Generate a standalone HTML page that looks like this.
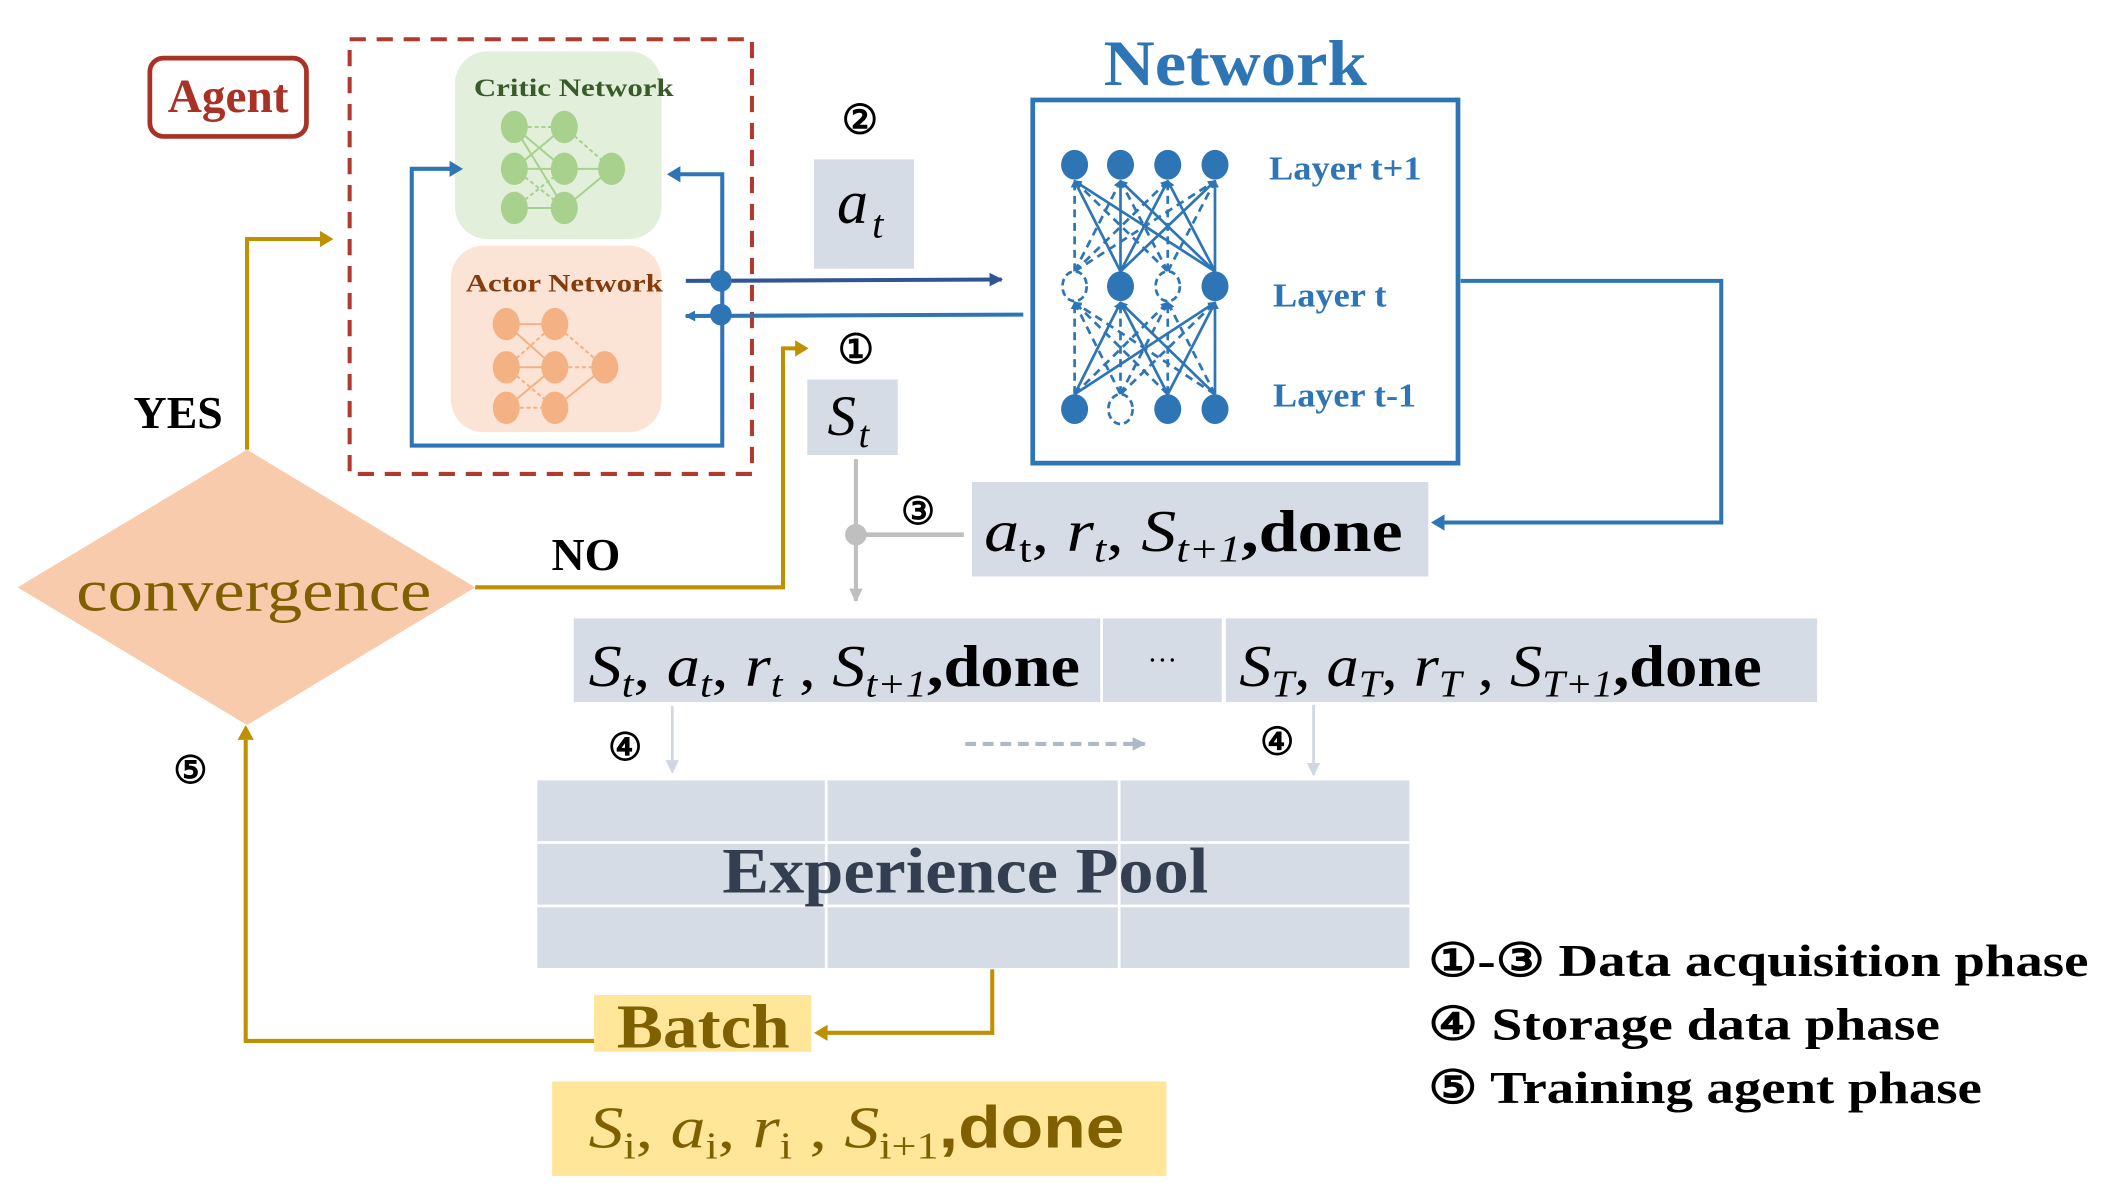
<!DOCTYPE html>
<html><head><meta charset="utf-8"><style>
html,body{margin:0;padding:0;background:#fff;}
svg{display:block;}
text{font-family:"Liberation Serif",serif;}
.b{font-weight:bold;}
.m{font-style:italic;}
</style></head><body>
<svg width="2106" height="1203" viewBox="0 0 1560 891" xmlns="http://www.w3.org/2000/svg">
<defs>
<marker id="ab" markerWidth="8" markerHeight="8" refX="7" refY="4" orient="auto" markerUnits="userSpaceOnUse"><path d="M0,0 L8,4 L0,8 Z" fill="#2e75b6"/></marker>
<marker id="ad" markerWidth="10" markerHeight="10" refX="9" refY="5" orient="auto" markerUnits="userSpaceOnUse"><path d="M0,0 L10,5 L0,10 Z" fill="#2f5597"/></marker>
<marker id="agr" markerWidth="10" markerHeight="10" refX="9" refY="5" orient="auto" markerUnits="userSpaceOnUse"><path d="M0,0 L10,5 L0,10 Z" fill="#bfbfbf"/></marker>
<marker id="alg" markerWidth="10" markerHeight="10" refX="9" refY="5" orient="auto" markerUnits="userSpaceOnUse"><path d="M0,0 L10,5 L0,10 Z" fill="#d0d6e2"/></marker>
<marker id="ad2" markerWidth="10" markerHeight="10" refX="9" refY="5" orient="auto" markerUnits="userSpaceOnUse"><path d="M0,0 L10,5 L0,10 Z" fill="#adb9ca"/></marker>
<marker id="an" markerWidth="6" markerHeight="6" refX="5" refY="3" orient="auto" markerUnits="userSpaceOnUse"><path d="M0,0 L6,3 L0,6 Z" fill="#2e75b6"/></marker>
</defs>

<rect x="111" y="43" width="116" height="58" rx="10" fill="#fff" stroke="#a93226" stroke-width="3.5"/>
<text x="169" y="83" text-anchor="middle" class="b" font-size="35" fill="#a93226">Agent</text>

<rect x="259" y="29" width="298" height="322" fill="none" stroke="#b03a2e" stroke-width="3" stroke-dasharray="12,8"/>

<rect x="337" y="38" width="153" height="139" rx="24" fill="#e2efda"/>
<text x="425" y="71" text-anchor="middle" class="b" font-size="19" fill="#3a5a2a" textLength="148" lengthAdjust="spacingAndGlyphs">Critic Network</text>
<g stroke="#a9d18e" stroke-width="1.5">
<line x1="381" y1="94" x2="418" y2="94" stroke-dasharray="3,2"/><line x1="381" y1="94" x2="418" y2="125"/><line x1="381" y1="125" x2="418" y2="94"/>
<line x1="381" y1="125" x2="418" y2="125"/><line x1="381" y1="125" x2="418" y2="154" stroke-dasharray="3,2"/><line x1="381" y1="154" x2="418" y2="125" stroke-dasharray="3,2"/>
<line x1="381" y1="154" x2="418" y2="154"/><line x1="381" y1="94" x2="418" y2="154"/>
<line x1="418" y1="94" x2="453" y2="125" stroke-dasharray="3,2"/><line x1="418" y1="125" x2="453" y2="125"/><line x1="418" y1="154" x2="453" y2="125"/>
</g>
<g fill="#a9d18e">
<ellipse cx="381" cy="94" rx="10" ry="12"/><ellipse cx="381" cy="125" rx="10" ry="12"/><ellipse cx="381" cy="154" rx="10" ry="12"/>
<ellipse cx="418" cy="94" rx="10" ry="12"/><ellipse cx="418" cy="125" rx="10" ry="12"/><ellipse cx="418" cy="154" rx="10" ry="12"/>
<ellipse cx="453" cy="125" rx="10" ry="12"/>
</g>

<rect x="334" y="182" width="156" height="138" rx="24" fill="#fbe4d5"/>
<text x="418" y="216" text-anchor="middle" class="b" font-size="19" fill="#843c0c" textLength="146" lengthAdjust="spacingAndGlyphs">Actor Network</text>
<g stroke="#f4b183" stroke-width="1.5">
<line x1="375" y1="240" x2="411" y2="240"/><line x1="375" y1="240" x2="411" y2="272"/><line x1="375" y1="272" x2="411" y2="240" stroke-dasharray="3,2"/>
<line x1="375" y1="272" x2="411" y2="272"/><line x1="375" y1="272" x2="411" y2="302" stroke-dasharray="3,2"/><line x1="375" y1="302" x2="411" y2="272"/>
<line x1="375" y1="302" x2="411" y2="302" stroke-dasharray="3,2"/>
<line x1="411" y1="240" x2="448" y2="272" stroke-dasharray="3,2"/><line x1="411" y1="272" x2="448" y2="272" stroke-dasharray="3,2"/><line x1="411" y1="302" x2="448" y2="272"/>
</g>
<g fill="#f4b183">
<ellipse cx="375" cy="240" rx="10" ry="12"/><ellipse cx="375" cy="272" rx="10" ry="12"/><ellipse cx="375" cy="302" rx="10" ry="12"/>
<ellipse cx="411" cy="240" rx="10" ry="12"/><ellipse cx="411" cy="272" rx="10" ry="12"/><ellipse cx="411" cy="302" rx="10" ry="12"/>
<ellipse cx="448" cy="272" rx="10" ry="12"/>
</g>

<polyline points="340,125 305,125 305,330 535,330 535,129 497,129" fill="none" stroke="#2e75b6" stroke-width="3"/>
<path d="M333,119 L343,125 L333,131 Z" fill="#2e75b6"/>
<path d="M504,123 L494,129 L504,135 Z" fill="#2e75b6"/>
<line x1="508" y1="208" x2="742" y2="207" stroke="#2f5597" stroke-width="3" marker-end="url(#ad)"/>
<line x1="758" y1="233" x2="508" y2="234" stroke="#2e75b6" stroke-width="3" marker-end="url(#ab)"/>
<circle cx="534" cy="208" r="8" fill="#2e75b6"/><circle cx="534" cy="233" r="8" fill="#2e75b6"/>

<text x="637" y="99" text-anchor="middle" class="b" font-size="30" fill="#000">②</text>
<rect x="603" y="118" width="74" height="81" fill="#d6dce5"/>
<text x="620" y="165" class="m" font-size="46">a</text><text x="646" y="176" class="m" font-size="30">t</text>
<text x="634" y="269" text-anchor="middle" class="b" font-size="30">①</text>
<rect x="598" y="281" width="67" height="56" fill="#d6dce5"/>
<text x="613" y="322" class="m" font-size="42">S</text><text x="636" y="331" class="m" font-size="28">t</text>

<line x1="634" y1="340" x2="634" y2="445" stroke="#bfbfbf" stroke-width="3" marker-end="url(#agr)"/>
<line x1="634" y1="396" x2="714" y2="396" stroke="#bfbfbf" stroke-width="3.5"/>
<circle cx="634" cy="396" r="8" fill="#bfbfbf"/>
<text x="680" y="388" text-anchor="middle" class="b" font-size="28">③</text>

<rect x="720" y="357" width="338" height="70" fill="#d6dce5"/>
<text x="729" y="408" font-size="44" textLength="310" lengthAdjust="spacingAndGlyphs"><tspan class="m">a</tspan><tspan font-size="28" dy="8">t</tspan><tspan dy="-8">, </tspan><tspan class="m">r</tspan><tspan class="m" font-size="28" dy="8">t</tspan><tspan dy="-8">, </tspan><tspan class="m">S</tspan><tspan class="m" font-size="28" dy="8">t+1</tspan><tspan dy="-8" class="b">,done</tspan></text>

<text x="915" y="63" text-anchor="middle" class="b" font-size="48" fill="#2e75b6" textLength="195" lengthAdjust="spacingAndGlyphs">Network</text>
<rect x="765" y="74" width="315" height="269" fill="#fff" stroke="#2e75b6" stroke-width="3.5"/>
<g stroke="#2e75b6" stroke-width="2" marker-end="url(#an)">
<line x1="796" y1="201" x2="796" y2="134" stroke-dasharray="6,4"/><line x1="796" y1="201" x2="830" y2="134" stroke-dasharray="6,4"/><line x1="796" y1="201" x2="865" y2="134" stroke-dasharray="6,4"/><line x1="796" y1="201" x2="900" y2="134" stroke-dasharray="6,4"/>
<line x1="830" y1="201" x2="796" y2="134"/><line x1="830" y1="201" x2="830" y2="134"/><line x1="830" y1="201" x2="865" y2="134"/><line x1="830" y1="201" x2="900" y2="134"/>
<line x1="865" y1="201" x2="796" y2="134" stroke-dasharray="6,4"/><line x1="865" y1="201" x2="830" y2="134" stroke-dasharray="6,4"/><line x1="865" y1="201" x2="865" y2="134" stroke-dasharray="6,4"/><line x1="865" y1="201" x2="900" y2="134" stroke-dasharray="6,4"/>
<line x1="900" y1="201" x2="796" y2="134"/><line x1="900" y1="201" x2="830" y2="134"/><line x1="900" y1="201" x2="865" y2="134"/><line x1="900" y1="201" x2="900" y2="134"/>
<line x1="796" y1="292" x2="796" y2="224" stroke-dasharray="6,4"/><line x1="796" y1="292" x2="830" y2="224"/><line x1="796" y1="292" x2="865" y2="224" stroke-dasharray="6,4"/><line x1="796" y1="292" x2="900" y2="224"/>
<line x1="830" y1="292" x2="796" y2="224" stroke-dasharray="6,4"/><line x1="830" y1="292" x2="830" y2="224" stroke-dasharray="6,4"/><line x1="830" y1="292" x2="865" y2="224" stroke-dasharray="6,4"/><line x1="830" y1="292" x2="900" y2="224" stroke-dasharray="6,4"/>
<line x1="865" y1="292" x2="796" y2="224" stroke-dasharray="6,4"/><line x1="865" y1="292" x2="830" y2="224"/><line x1="865" y1="292" x2="865" y2="224" stroke-dasharray="6,4"/><line x1="865" y1="292" x2="900" y2="224"/>
<line x1="900" y1="292" x2="796" y2="224" stroke-dasharray="6,4"/><line x1="900" y1="292" x2="830" y2="224"/><line x1="900" y1="292" x2="865" y2="224" stroke-dasharray="6,4"/><line x1="900" y1="292" x2="900" y2="224"/>
</g>
<g fill="#2e75b6">
<ellipse cx="796" cy="122" rx="10" ry="11"/><ellipse cx="830" cy="122" rx="10" ry="11"/><ellipse cx="865" cy="122" rx="10" ry="11"/><ellipse cx="900" cy="122" rx="10" ry="11"/>
<ellipse cx="830" cy="212" rx="10" ry="11"/><ellipse cx="900" cy="212" rx="10" ry="11"/>
<ellipse cx="796" cy="303" rx="10" ry="11"/><ellipse cx="865" cy="303" rx="10" ry="11"/><ellipse cx="900" cy="303" rx="10" ry="11"/>
</g>
<g fill="#fff" stroke="#2e75b6" stroke-width="2" stroke-dasharray="5,3">
<ellipse cx="796" cy="212" rx="9" ry="11"/><ellipse cx="865" cy="212" rx="9" ry="11"/><ellipse cx="830" cy="303" rx="9" ry="11"/>
</g>
<g class="b" font-size="25" fill="#2e75b6">
<text x="940" y="133" textLength="113" lengthAdjust="spacingAndGlyphs">Layer t+1</text>
<text x="943" y="227" textLength="84" lengthAdjust="spacingAndGlyphs">Layer t</text>
<text x="943" y="301" textLength="106" lengthAdjust="spacingAndGlyphs">Layer t-1</text>
</g>
<polyline points="1082,208 1275,208 1275,387 1070,387" fill="none" stroke="#2e75b6" stroke-width="3"/>
<path d="M1070,381 L1060,387 L1070,393 Z" fill="#2e75b6"/>

<rect x="425" y="458" width="390" height="62" fill="#d6dce5"/>
<rect x="817" y="458" width="88" height="62" fill="#d6dce5"/>
<rect x="908" y="458" width="438" height="62" fill="#d6dce5"/>
<text x="436" y="508" font-size="44" textLength="364" lengthAdjust="spacingAndGlyphs"><tspan class="m">S</tspan><tspan class="m" font-size="28" dy="8">t</tspan><tspan dy="-8">, </tspan><tspan class="m">a</tspan><tspan class="m" font-size="28" dy="8">t</tspan><tspan dy="-8">, </tspan><tspan class="m">r</tspan><tspan class="m" font-size="28" dy="8">t</tspan><tspan dy="-8"> , </tspan><tspan class="m">S</tspan><tspan class="m" font-size="28" dy="8">t+1</tspan><tspan dy="-8" class="b">,done</tspan></text>
<text x="861" y="490" text-anchor="middle" font-size="22">…</text>
<text x="918" y="508" font-size="44" textLength="387" lengthAdjust="spacingAndGlyphs"><tspan class="m">S</tspan><tspan class="m" font-size="28" dy="8">T</tspan><tspan dy="-8">, </tspan><tspan class="m">a</tspan><tspan class="m" font-size="28" dy="8">T</tspan><tspan dy="-8">, </tspan><tspan class="m">r</tspan><tspan class="m" font-size="28" dy="8">T</tspan><tspan dy="-8"> , </tspan><tspan class="m">S</tspan><tspan class="m" font-size="28" dy="8">T+1</tspan><tspan dy="-8" class="b">,done</tspan></text>

<line x1="498" y1="523" x2="498" y2="572" stroke="#d0d6e2" stroke-width="2" marker-end="url(#alg)"/>
<line x1="973" y1="522" x2="973" y2="574" stroke="#d0d6e2" stroke-width="2" marker-end="url(#alg)"/>
<line x1="715" y1="551" x2="848" y2="551" stroke="#adb9ca" stroke-width="3" stroke-dasharray="8,5" marker-end="url(#ad2)"/>
<text x="463" y="563" text-anchor="middle" class="b" font-size="28">④</text>
<text x="946" y="559" text-anchor="middle" class="b" font-size="28">④</text>

<rect x="398" y="578" width="646" height="139" fill="#d6dce5"/>
<g stroke="#fff" stroke-width="2"><line x1="612" y1="578" x2="612" y2="717"/><line x1="829" y1="578" x2="829" y2="717"/><line x1="398" y1="624" x2="1044" y2="624"/><line x1="398" y1="671" x2="1044" y2="671"/></g>
<text x="715" y="661" text-anchor="middle" class="b" font-size="48" fill="#333f50" textLength="360" lengthAdjust="spacingAndGlyphs">Experience Pool</text>

<polyline points="735,718 735,765 612,765" fill="none" stroke="#bf9000" stroke-width="3"/>
<path d="M613,759 L603,765 L613,771 Z" fill="#bf9000"/>
<rect x="440" y="737" width="161" height="42" fill="#ffe699"/>
<text x="521" y="776" text-anchor="middle" class="b" font-size="46" fill="#7f6000" textLength="128" lengthAdjust="spacingAndGlyphs">Batch</text>
<rect x="409" y="801" width="455" height="70" fill="#ffe699"/>
<text x="436" y="850" font-size="44" fill="#7f6000" textLength="397" lengthAdjust="spacingAndGlyphs"><tspan class="m">S</tspan><tspan font-size="28" dy="8">i</tspan><tspan dy="-8">, </tspan><tspan class="m">a</tspan><tspan font-size="28" dy="8">i</tspan><tspan dy="-8">, </tspan><tspan class="m">r</tspan><tspan font-size="28" dy="8">i</tspan><tspan dy="-8"> , </tspan><tspan class="m">S</tspan><tspan font-size="28" dy="8">i+1</tspan><tspan dy="-8" class="b" font-family="Liberation Sans">,done</tspan></text>

<polyline points="440,771 182,771 182,548" fill="none" stroke="#bf9000" stroke-width="3"/>
<path d="M176,548 L182,537 L188,548 Z" fill="#bf9000"/>
<text x="141" y="580" text-anchor="middle" class="b" font-size="28">⑤</text>

<polygon points="183,333 352,435 183,537 13,435" fill="#f8cbad"/>
<text x="188" y="452" text-anchor="middle" font-size="44" fill="#7f6000" textLength="263" lengthAdjust="spacingAndGlyphs">convergence</text>
<polyline points="183,333 183,177 238,177" fill="none" stroke="#bf9000" stroke-width="3"/>
<path d="M237,171 L247,177 L237,183 Z" fill="#bf9000"/>
<text x="132" y="317" text-anchor="middle" class="b" font-size="34">YES</text>
<polyline points="352,435 580,435 580,258 590,258" fill="none" stroke="#bf9000" stroke-width="3"/>
<path d="M589,252 L599,258 L589,264 Z" fill="#bf9000"/>
<text x="434" y="422" text-anchor="middle" class="b" font-size="34">NO</text>

<g class="b" font-size="34" fill="#000">
<text x="1058" y="723" textLength="489" lengthAdjust="spacingAndGlyphs">①-③  Data acquisition phase</text>
<text x="1058" y="770" textLength="379" lengthAdjust="spacingAndGlyphs">④  Storage data phase</text>
<text x="1058" y="817" textLength="410" lengthAdjust="spacingAndGlyphs">⑤  Training agent phase</text>
</g>
</svg>
</body></html>
